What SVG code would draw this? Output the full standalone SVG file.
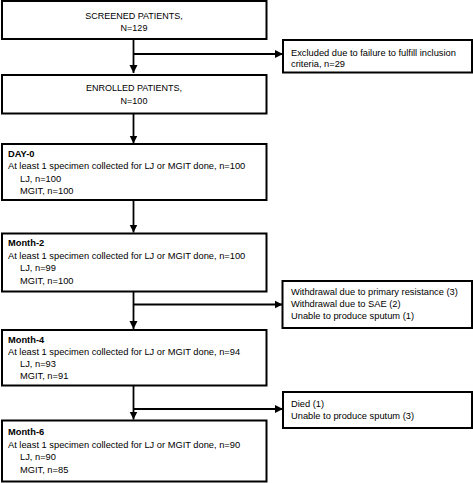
<svg xmlns="http://www.w3.org/2000/svg" width="473" height="483" viewBox="0 0 473 483">
<defs>
<marker id="ah" markerUnits="userSpaceOnUse" markerWidth="9" markerHeight="9" refX="8" refY="4.5" orient="auto">
<path d="M0,0.5 L8,4.5 L0,8.5 Z" fill="#000"/>
</marker>
<style>
.box{fill:#fff;stroke:#000;stroke-width:2}
.t{font-family:"Liberation Sans",Arial,sans-serif;font-size:9.3px;fill:#000}
.c{text-anchor:middle;font-size:9px}
.b{font-weight:bold}
.ln{fill:none;stroke:#000;stroke-width:1.8}
</style>
</defs>
<rect width="473" height="483" fill="#fff"/>
<g id="connectors">
<path class="ln" d="M133.5,39 V73" marker-end="url(#ah)"/>
<path class="ln" d="M133.5,54 H283" marker-end="url(#ah)"/>
<path class="ln" d="M133.5,113.5 V143.5" marker-end="url(#ah)"/>
<path class="ln" d="M133.5,200 V232.5" marker-end="url(#ah)"/>
<path class="ln" d="M133.5,291.5 V329" marker-end="url(#ah)"/>
<path class="ln" d="M133.5,304.5 H282.5" marker-end="url(#ah)"/>
<path class="ln" d="M133.5,385.5 V419.5" marker-end="url(#ah)"/>
<path class="ln" d="M133.5,409 H283" marker-end="url(#ah)"/>
</g>
<g id="screened">
<rect class="box" x="2" y="1" width="264.5" height="38"/>
<text class="t c" x="134" y="19">SCREENED PATIENTS,</text>
<text class="t c" x="134" y="30.5">N=129</text>
</g>
<g id="excluded">
<rect class="box" x="283" y="40" width="189" height="32.5"/>
<text class="t" x="291" y="56">Excluded due to failure to fulfill inclusion</text>
<text class="t" x="291" y="67">criteria, n=29</text>
</g>
<g id="enrolled">
<rect class="box" x="2" y="75" width="264.5" height="38.5"/>
<text class="t c" x="134" y="91">ENROLLED PATIENTS,</text>
<text class="t c" x="134" y="103.5">N=100</text>
</g>
<g id="day0">
<rect class="box" x="2" y="144" width="264.5" height="56"/>
<text class="t b" x="8" y="156.5">DAY-0</text>
<text class="t" x="8" y="169">At least 1 specimen collected for LJ or MGIT done, n=100</text>
<text class="t" x="20" y="181.5">LJ, n=100</text>
<text class="t" x="20" y="194">MGIT, n=100</text>
</g>
<g id="month2">
<rect class="box" x="2" y="233.5" width="264.5" height="58"/>
<text class="t b" x="8" y="246">Month-2</text>
<text class="t" x="8" y="258.5">At least 1 specimen collected for LJ or MGIT done, n=100</text>
<text class="t" x="20" y="271">LJ, n=99</text>
<text class="t" x="20" y="283.5">MGIT, n=100</text>
</g>
<g id="withdrawal">
<rect class="box" x="282.5" y="281" width="189.5" height="47"/>
<text class="t" x="291" y="295">Withdrawal due to primary resistance (3)</text>
<text class="t" x="291" y="307">Withdrawal due to SAE (2)</text>
<text class="t" x="291" y="319">Unable to produce sputum (1)</text>
</g>
<g id="month4">
<rect class="box" x="2" y="330" width="264.5" height="55.5"/>
<text class="t b" x="8" y="342.5">Month-4</text>
<text class="t" x="8" y="355">At least 1 specimen collected for LJ or MGIT done, n=94</text>
<text class="t" x="20" y="367">LJ, n=93</text>
<text class="t" x="20" y="379">MGIT, n=91</text>
</g>
<g id="died">
<rect class="box" x="283" y="392" width="189" height="36"/>
<text class="t" x="291" y="407">Died (1)</text>
<text class="t" x="291" y="419">Unable to produce sputum (3)</text>
</g>
<g id="month6">
<rect class="box" x="2" y="420.5" width="264.5" height="61"/>
<text class="t b" x="8" y="435">Month-6</text>
<text class="t" x="8" y="447.5">At least 1 specimen collected for LJ or MGIT done, n=90</text>
<text class="t" x="20" y="460">LJ, n=90</text>
<text class="t" x="20" y="472.5">MGIT, n=85</text>
</g>
</svg>
